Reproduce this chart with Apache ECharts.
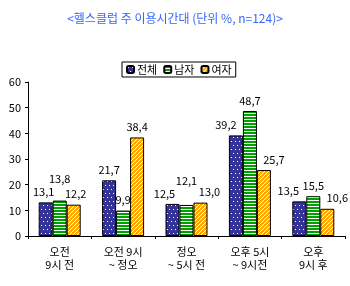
<!DOCTYPE html>
<html><head><meta charset="utf-8">
<script src="https://cdn.jsdelivr.net/npm/echarts@6/dist/echarts.min.js"></script>
<style>html,body{margin:0;padding:0;background:#fff;}#c{width:350px;height:286px;}</style>
</head><body><div id="c"></div>
<script>
const categories = ['오전\n9시 전', '오전 9시\n~ 정오', '정오\n~ 5시 전', '오후 5시\n~ 9시전', '오후\n9시 후'];
const seriesNames = ['전체', '남자', '여자'];
const totalValues = [13.1, 21.7, 12.5, 39.2, 13.5];
const maleValues = [13.8, 9.9, 12.1, 48.7, 15.5];
const femaleValues = [12.2, 38.4, 13.0, 25.7, 10.6];
const yTicks = [0, 10, 20, 30, 40, 50, 60];

// label nudges (style only), per series per category
const labelOffsets = [
  [[-2, 0], [0, 0], [-8, 0], [-10, 0], [-11, 0]],
  [[0, -11], [0, 0], [0, -14], [0, 0], [0, 0]],
  [[2, 0], [0, 0], [9, 0], [10, 0], [10, 0]]
];

function makeTile(w, h, bg, draw) {
  const c = document.createElement('canvas');
  c.width = w; c.height = h;
  const g = c.getContext('2d');
  g.fillStyle = bg; g.fillRect(0, 0, w, h);
  g.fillStyle = '#fff';
  draw(g);
  return c;
}
const dotTile = makeTile(4, 8, '#333399', g => { g.fillRect(1, 1, 1, 1); g.fillRect(3, 5, 1, 1); });
const stripeTile = makeTile(4, 3, '#00A000', g => { g.fillRect(0, 2, 4, 1); });
const diagTile = makeTile(4, 4, '#FFAA00', g => { for (let i = 0; i < 4; i++) g.fillRect(i, 3 - i, 1, 1); });
const patterns = [dotTile, stripeTile, diagTile];
const dataSets = [totalValues, maleValues, femaleValues];
const font = "'Noto Sans CJK KR', sans-serif";

const chart = echarts.init(document.getElementById('c'), null, {renderer: 'canvas'});
chart.setOption({
  animation: false,
  title: {
    text: '<헬스클럽 주 이용시간대 (단위 %, n=124)>',
    left: 'center', top: 7,
    textStyle: {color: '#3366FF', fontSize: 12, fontWeight: 'normal', fontFamily: font}
  },
  legend: {
    top: 62, left: 122,
    itemWidth: 7, itemHeight: 7, itemGap: 6,
    borderColor: '#000', borderWidth: 1, padding: [2, 4, 2, 4],
    textStyle: {fontSize: 11, fontFamily: font, color: '#000', padding: [0, 0, 0, -2]},
    data: seriesNames
  },
  grid: {left: 28, right: 5, top: 82, bottom: 50},
  xAxis: {
    type: 'category', data: categories,
    axisLine: {lineStyle: {color: '#000'}},
    axisTick: {show: true, length: 3, lineStyle: {color: '#000'}},
    axisLabel: {color: '#000', fontSize: 11, fontFamily: font, margin: 9, lineHeight: 13}
  },
  yAxis: {
    type: 'value', min: yTicks[0], max: yTicks[yTicks.length - 1], interval: 10,
    axisLine: {show: true, lineStyle: {color: '#000'}},
    axisTick: {show: true, length: 3, lineStyle: {color: '#000'}},
    splitLine: {show: false},
    axisLabel: {color: '#000', fontSize: 11, fontFamily: font, margin: 7}
  },
  series: seriesNames.map((n, i) => ({
    name: n, type: 'bar',
    data: dataSets[i].map((v, j) => ({value: v, label: {offset: labelOffsets[i][j]}})),
    barWidth: 14, barGap: '0%',
    itemStyle: {color: {image: patterns[i], repeat: 'repeat'}, borderColor: '#000', borderWidth: 1},
    label: {
      show: true, position: 'top', distance: 5,
      color: '#000', fontSize: 11, fontFamily: font,
      formatter: p => p.value.toFixed(1).replace('.', ',')
    }
  }))
});
</script></body></html>
